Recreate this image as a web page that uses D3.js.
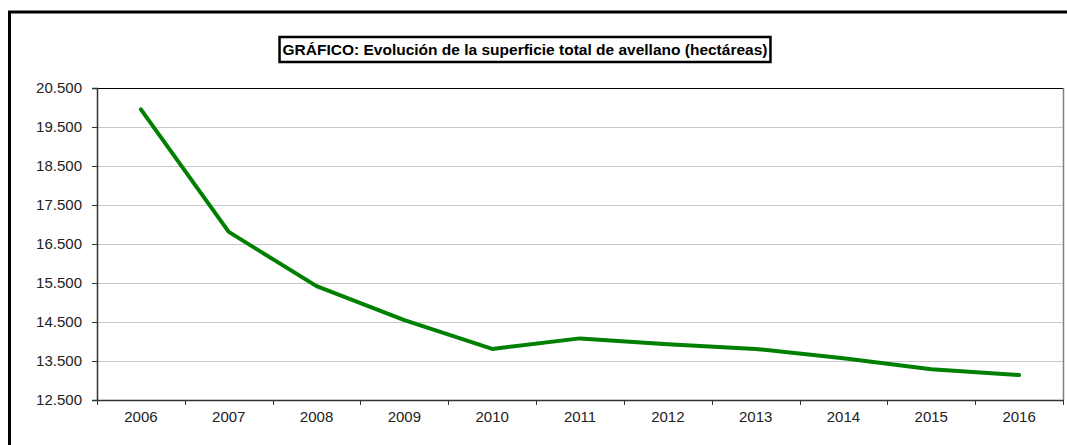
<!DOCTYPE html>
<html>
<head>
<meta charset="utf-8">
<script src="https://cdn.jsdelivr.net/npm/d3@7"></script>
<style>
  body { margin: 0; background: #fff; }
  text { font-family: "Liberation Sans", Arial, sans-serif; }
</style>
</head>
<body>
<div class="chart"></div>
<script>
const years = ["2006", "2007", "2008", "2009", "2010", "2011", "2012", "2013", "2014", "2015", "2016"];
const superficie = [19950, 16810, 15420, 14550, 13810, 14080, 13930, 13810, 13570, 13290, 13140];
const yTicks = [12500, 13500, 14500, 15500, 16500, 17500, 18500, 19500, 20500];
const titleText = "GRÁFICO: Evolución de la superficie total de avellano (hectáreas)";

var cfg = {
  width: 1067,
  height: 445,
  plot: {left: 97, right: 1063, top: 88, bottom: 400}
};

var scale = {
  x: d3.scaleBand()
      .domain(years)
      .range([cfg.plot.left, cfg.plot.right])
      .padding(0),
  y: d3.scaleLinear()
      .domain([12500, 20500])
      .range([cfg.plot.bottom, cfg.plot.top])
};

var svg = d3.select(".chart").append("svg")
    .attr("width", cfg.width)
    .attr("height", cfg.height);

// outer frame
svg.append("rect")
    .attr("x", 9.5)
    .attr("y", 12)
    .attr("width", 1080)
    .attr("height", 460)
    .attr("fill", "none")
    .attr("stroke", "#000")
    .attr("stroke-width", 3);

// gridlines
svg.append("g")
  .selectAll("line")
  .data(yTicks.slice(1, -1))
  .enter().append("line")
    .attr("x1", cfg.plot.left)
    .attr("x2", cfg.plot.right)
    .attr("y1", d => Math.round(scale.y(d)) + 0.5)
    .attr("y2", d => Math.round(scale.y(d)) + 0.5)
    .attr("stroke", "#c8c8c8")
    .attr("stroke-width", 1);

// plot frame top / right
svg.append("line")
    .attr("x1", cfg.plot.left).attr("x2", cfg.plot.right)
    .attr("y1", cfg.plot.top + 0.5).attr("y2", cfg.plot.top + 0.5)
    .attr("stroke", "#000");
svg.append("line")
    .attr("x1", cfg.plot.right + 0.5).attr("x2", cfg.plot.right + 0.5)
    .attr("y1", cfg.plot.top).attr("y2", cfg.plot.bottom)
    .attr("stroke", "#808080")
    .attr("stroke-width", 1.5);

// y axis
var yAxis = svg.append("g")
    .attr("transform", `translate(${cfg.plot.left}, 0)`)
    .call(d3.axisLeft(scale.y)
      .tickValues(yTicks)
      .tickSize(5)
      .tickPadding(10)
      .tickFormat(d => d3.format(",")(d).replace(",", ".")));
yAxis.select(".domain").attr("stroke", "#333").attr("stroke-width", 1.5);
yAxis.selectAll(".tick line").attr("stroke", "#333");
yAxis.selectAll("text").attr("font-size", "15px").attr("fill", "#222");

// x axis
var xAxis = svg.append("g")
    .attr("transform", `translate(0, ${cfg.plot.bottom})`)
    .call(d3.axisBottom(scale.x).tickSize(0).tickPadding(11));
xAxis.select(".domain").attr("stroke", "#333").attr("stroke-width", 1.5);
xAxis.selectAll("text").attr("font-size", "15px").attr("fill", "#222");

// category boundary ticks
svg.append("g")
  .selectAll("line")
  .data(years.concat(["end"]))
  .enter().append("line")
    .attr("x1", (d, i) => Math.round(cfg.plot.left + i * scale.x.bandwidth()) + 0.5)
    .attr("x2", (d, i) => Math.round(cfg.plot.left + i * scale.x.bandwidth()) + 0.5)
    .attr("y1", cfg.plot.bottom)
    .attr("y2", cfg.plot.bottom + 5)
    .attr("stroke", "#333");

// series line
var line = d3.line()
    .x((d, i) => scale.x(years[i]) + scale.x.bandwidth() / 2)
    .y(d => scale.y(d));

svg.append("path")
    .datum(superficie)
    .attr("d", line)
    .attr("fill", "none")
    .attr("stroke", "#008000")
    .attr("stroke-width", 4)
    .attr("stroke-linejoin", "round")
    .attr("stroke-linecap", "round");

// title box
var titleG = svg.append("g");
var title = titleG.append("text")
    .attr("x", 525)
    .attr("y", 55)
    .attr("text-anchor", "middle")
    .attr("font-size", "15.5px")
    .attr("font-weight", "bold")
    .attr("fill", "#000")
    .text(titleText);
var bb = title.node().getBBox();
titleG.insert("rect", "text")
    .attr("x", bb.x - 3)
    .attr("y", 37)
    .attr("width", bb.width + 6)
    .attr("height", 25)
    .attr("fill", "#fff")
    .attr("stroke", "#000")
    .attr("stroke-width", 2.5);
</script>
</body>
</html>
